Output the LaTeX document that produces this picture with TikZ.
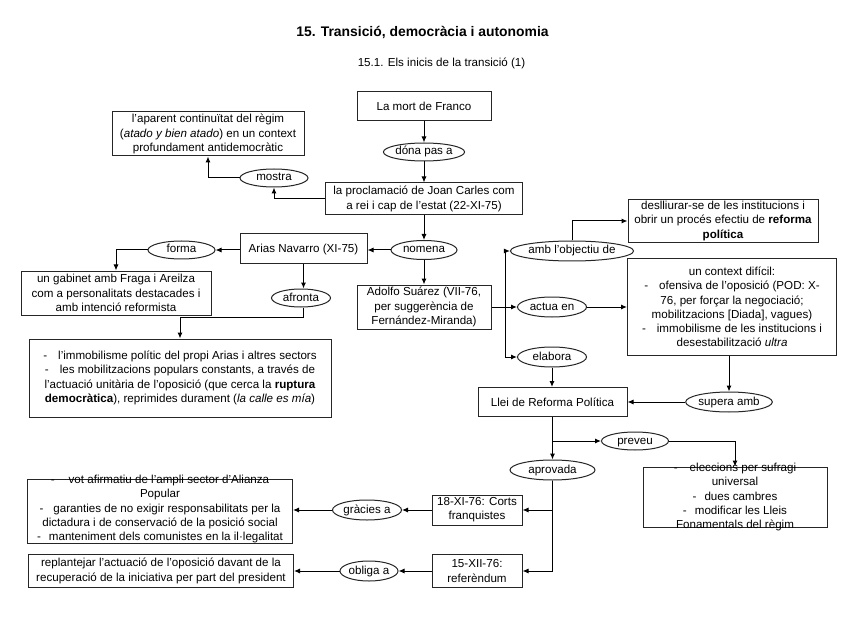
\documentclass[tikz,border=0pt]{standalone}
\usepackage{fontspec}
\setmainfont{Liberation Sans}
\usetikzlibrary{shapes.geometric,arrows.meta}
\newcommand{\fnt}{\fontsize{11.6}{14.3}\selectfont}
\newcommand{\dsh}[1]{-\hspace{#1pt}}
\begin{document}
\begin{tikzpicture}[x=1pt,y=-1pt,
 box/.style={draw=black!85, line width=1pt, rectangle, align=center, inner sep=1pt, font=\fnt},
 ell/.style={draw=black!85, line width=1pt, ellipse, inner sep=0pt, font=\fnt, text height=8pt, text depth=2pt},
 txt/.style={align=center, inner sep=0pt, font=\fnt},
 arr/.style={line width=1pt, -{Latex[length=6pt,width=5pt]}},
 ln/.style={line width=1pt}]
\useasboundingbox[fill=white] (0,0) rectangle (848,636);

% titles
\node[font=\fontsize{13.9}{16}\selectfont\bfseries] (title) at (422.5,32) {15. Transició, democràcia i autonomia};
\node[font=\fnt] (subtitle) at (441.5,63) {15.1. Els inicis de la transició (1)};

% nodes
\node[box, minimum width=134pt, minimum height=29pt] (franco) at (424,106) {La mort de Franco};
\node[ell, minimum width=80pt, minimum height=18pt] (donapas) at (424,152) {dóna pas a};
\node[box, minimum width=197pt, minimum height=32pt] (procl) at (424,199) {la proclamació de Joan Carles com\\a rei i cap de l'estat (22-XI-75)};
\node[box, minimum width=192pt, minimum height=44pt] (aparent) at (208,134) {l'aparent continuïtat del règim\\(\textit{atado y bien atado}) en un context\\profundament antidemocràtic};
\node[ell, minimum width=68pt, minimum height=18pt] (mostra) at (274,178) {mostra};
\node[ell, minimum width=66pt, minimum height=19pt] (nomena) at (424,250) {nomena};
\node[box, minimum width=127pt, minimum height=30pt] (arias) at (303.5,249) {Arias Navarro (XI-75)};
\node[ell, minimum width=67pt, minimum height=18pt] (forma) at (181.5,250) {forma};
\node[box, minimum width=190pt, minimum height=44pt] (gabinet) at (116,293) {un gabinet amb Fraga i Areilza\\com a personalitats destacades i\\amb intenció reformista};
\node[ell, minimum width=59pt, minimum height=18pt] (afronta) at (301,298) {afronta};
\node[box, minimum width=302pt, minimum height=78pt] (immob) at (180,378) {\dsh{11}l'immobilisme polític del propi Arias i altres sectors\\\dsh{11}les mobilitzacions populars constants, a través de\\l'actuació unitària de l'oposició (que cerca la \textbf{ruptura}\\\textbf{democràtica}), reprimides durament (\textit{la calle es mía})};
\node[box, minimum width=134pt, minimum height=44pt] (suarez) at (424,307) {Adolfo Suárez (VII-76,\\per suggerència de\\Fernández-Miranda)};
\coordinate (spine) at (505,307);
\node[ell, minimum width=105pt, minimum height=20pt] (ambobj) at (572,251) {amb l'objectiu de};
\node[box, minimum width=190pt, minimum height=43pt] (desll) at (723,221) {deslliurar-se de les institucions i\\obrir un procés efectiu de \textbf{reforma}\\\textbf{política}};
\node[ell, minimum width=69pt, minimum height=20pt] (actua) at (552,307) {actua en};
\node[box, minimum width=209pt, minimum height=96pt] (context) at (732,307) {un context difícil:\\\dsh{11}ofensiva de l'oposició (POD: X-\\76, per forçar la negociació;\\mobilitzacions [Diada], vagues)\\\dsh{11}immobilisme de les institucions i\\desestabilització \textit{ultra}};
\node[ell, minimum width=85pt, minimum height=20pt] (supera) at (729,402) {supera amb};
\node[ell, minimum width=69pt, minimum height=20pt] (elabora) at (552,357) {elabora};
\node[box, minimum width=149pt, minimum height=29pt] (llei) at (552.5,402) {Llei de Reforma Política};
\coordinate (junc) at (552.5,441);
\node[ell, minimum width=67pt, minimum height=18pt] (preveu) at (635,441) {preveu};
\node[box, minimum width=184pt, minimum height=60pt] (elecc) at (735,497) {};
\node[txt] (elecct) at (735,497) {\dsh{12}eleccions per sufragi\\universal\\\dsh{8}dues cambres\\\dsh{8}modificar les Lleis\\Fonamentals del règim};
\node[ell, minimum width=85pt, minimum height=20pt] (aprovada) at (552.5,470) {aprovada};
\node[box, minimum width=90pt, minimum height=30pt] (corts) at (477,510) {18-XI-76: Corts\\franquistes};
\node[ell, minimum width=69pt, minimum height=20pt] (gracies) at (367,510) {gràcies a};
\node[box, minimum width=265pt, minimum height=64pt] (vots) at (160,511) {};
\node[txt] (votst) at (160,509) {\dsh{14}vot afirmatiu de l'ampli sector d'Alianza\\Popular\\\dsh{10}garanties de no exigir responsabilitats per la\\dictadura i de conservació de la posició social\\\dsh{8}manteniment dels comunistes en la il·legalitat};
\node[box, minimum width=90pt, minimum height=33pt] (refer) at (477,571) {15-XII-76:\\referèndum};
\node[ell, minimum width=58pt, minimum height=20pt] (obliga) at (369,571) {obliga a};
\node[box, minimum width=265pt, minimum height=33pt] (replant) at (161,571) {replantejar l'actuació de l'oposició davant de la\\recuperació de la iniciativa per part del president};

% connectors
\draw[arr] (franco) -- (donapas);
\draw[arr] (donapas) -- (procl);
\draw[arr] (procl.west) -| (mostra.south);
\draw[arr] (mostra.west) -| (aparent.south);
\draw[arr] (procl) -- (nomena);
\draw[arr] (nomena) -- (arias.east |- nomena.west);
\draw[arr] (nomena) -- (suarez);
\draw[arr] (arias.west |- forma.east) -- (forma.east);
\draw[arr] (forma.west) -| (gabinet.north);
\draw[arr] (arias.south) -- (arias.south |- afronta.north);
\draw[arr] (arias.south |- afronta.south) -- (arias.south |- 0,317) -| (immob.north);
\draw[arr] (suarez.east) -- (actua.west);
\draw[arr] (spine) |- (ambobj.west);
\draw[arr] (spine) |- (elabora.west);
\draw[arr] (ambobj.north) |- (desll.west);
\draw[arr] (actua.east) -- (context.west);
\draw[arr] (supera.north |- context.south) -- (supera.north);
\draw[arr] (supera.west) -- (llei.east |- supera.west);
\draw[arr] (elabora.south) -- (elabora.south |- llei.north);
\draw[arr] (llei.south) -- (aprovada.north);
\draw[arr] (junc) -- (preveu.west);
\draw[arr] (preveu.east) -| (elecc.north);
\draw[ln] (aprovada.south) -- (aprovada.south |- refer.east);
\draw[arr] (aprovada.south) |- (corts.east);
\draw[arr] (aprovada.south) |- (refer.east);
\draw[arr] (corts.west) -- (gracies.east);
\draw[arr] (gracies.west) -- (vots.east |- gracies.west);
\draw[arr] (refer.west) -- (obliga.east);
\draw[arr] (obliga.west) -- (replant.east |- obliga.west);
\end{tikzpicture}
\end{document}
